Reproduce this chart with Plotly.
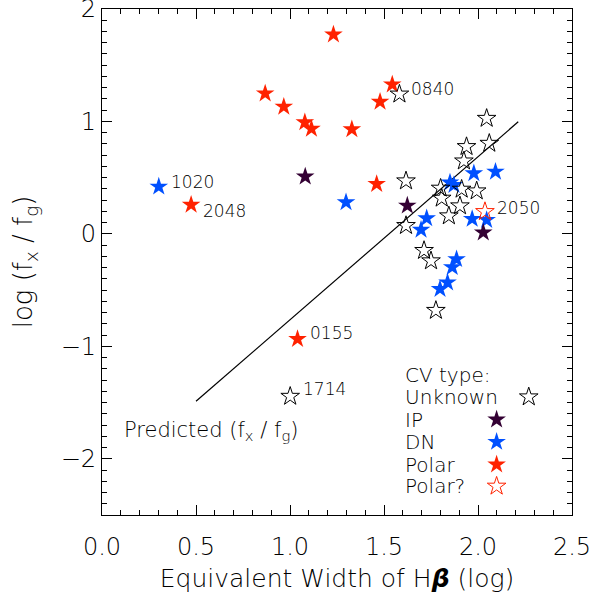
import plotly.graph_objects as go

# ---- data (log EW(Hbeta), log fx/fg) ----
unk_x = [1.582, 2.046, 2.060, 1.939, 1.925, 1.617, 1.801, 1.913, 1.993, 1.807, 1.904, 1.845, 1.617, 1.713, 1.750, 1.776, 1.001]
unk_y = [1.243, 1.027, 0.805, 0.776, 0.648, 0.471, 0.406, 0.397, 0.382, 0.317, 0.249, 0.160, 0.074, -0.148, -0.240, -0.681, -1.445]
unk_lab = ["0840", "", "", "", "", "", "", "", "", "", "", "", "", "", "", "", "1714"]

ip_x = [1.081, 1.624, 2.028]
ip_y = [0.509, 0.251, 0.012]

dn_x = [0.302, 1.298, 1.978, 2.093, 1.851, 1.872, 1.727, 1.969, 2.046, 1.697, 1.886, 1.863, 1.838, 1.798]
dn_y = [0.420, 0.281, 0.539, 0.553, 0.456, 0.435, 0.139, 0.133, 0.124, 0.036, -0.225, -0.296, -0.432, -0.491]
dn_lab = ["1020", "", "", "", "", "", "", "", "", "", "", "", "", ""]

pol_x = [1.231, 1.544, 0.868, 1.479, 0.967, 1.079, 1.114, 1.329, 1.461, 0.474, 1.040]
pol_y = [1.773, 1.329, 1.249, 1.175, 1.131, 0.992, 0.935, 0.930, 0.444, 0.258, -0.935]
pol_lab = ["", "", "", "", "", "", "", "", "", "2048", "0155"]

polq_x = [2.037]
polq_y = [0.198]
polq_lab = ["2050"]

pred_x = [0.50, 2.214]
pred_y = [-1.489, 0.997]

legend_names = ["Unknown", "IP", "DN", "Polar", "Polar?"]

RED = "#ff2200"
BLUE = "#0050ff"
IPC = "#330033"
FONT = "DejaVu Sans"
W = 300
MSIZE = 14

fig = go.Figure()

fig.add_trace(go.Scatter(x=pred_x, y=pred_y, mode="lines",
                         line=dict(color="black", width=1.2), hoverinfo="skip"))

def stars(xs, ys, symbol, color, lw=1.0):
    fig.add_trace(go.Scatter(
        x=xs, y=ys, mode="markers",
        marker=dict(symbol=symbol, size=MSIZE, color=color,
                    line=dict(width=lw if "open" in symbol else 0, color=color))))

stars(pol_x, pol_y, "star", RED)
stars(dn_x, dn_y, "star", BLUE)
stars(ip_x, ip_y, "star", IPC)
stars(unk_x, unk_y, "star-open", "black")
stars(polq_x, polq_y, "star-open", RED)

def tfont(size):
    return dict(family=FONT, size=size, color="black", weight=W)

# point labels
label_shift = {"1020": (10, 5), "2048": (10, -6), "0840": (10, 5),
               "2050": (10, 4), "0155": (10, 6), "1714": (11, 7)}
for xs, ys, labs in [(unk_x, unk_y, unk_lab), (dn_x, dn_y, dn_lab),
                     (pol_x, pol_y, pol_lab), (polq_x, polq_y, polq_lab)]:
    for xv, yv, lab in zip(xs, ys, labs):
        if lab:
            dx, dy = label_shift[lab]
            fig.add_annotation(x=xv, y=yv, text=lab, showarrow=False,
                               xanchor="left", yanchor="middle",
                               xshift=dx, yshift=dy, font=tfont(17))

# predicted label
fig.add_annotation(x=0.107, y=-1.756, text="Predicted (f<sub>x</sub> / f<sub>g</sub>)",
                   showarrow=False, xanchor="left", yanchor="middle", font=tfont(21))

# manual legend
leg_text_x = 1.603
leg_rows_y = [-1.252, -1.450, -1.652, -1.850, -2.052, -2.244]
fig.add_annotation(x=leg_text_x, y=leg_rows_y[0], text="CV type:", showarrow=False,
                   xanchor="left", yanchor="middle", font=tfont(20))
for name, yv in zip(legend_names, leg_rows_y[1:]):
    fig.add_annotation(x=leg_text_x, y=yv, text=name, showarrow=False,
                       xanchor="left", yanchor="middle", font=tfont(20))
leg_sym_x = [2.270, 2.099, 2.099, 2.099, 2.099]
leg_sym = [("star-open", "black"), ("star", IPC), ("star", BLUE), ("star", RED), ("star-open", RED)]
for (sym, col), xv, yv in zip(leg_sym, leg_sym_x, leg_rows_y[1:]):
    stars([xv], [yv], sym, col)

axis_common = dict(showline=True, linecolor="black", linewidth=1.3, mirror="allticks",
                   ticks="inside", ticklen=10, tickwidth=1.2, tickcolor="black",
                   showgrid=False, zeroline=False, automargin=False,
                   ticklabeloverflow="allow",
                   tickfont=tfont(24))

fig.update_xaxes(range=[0, 2.5], tickvals=[0, 0.5, 1.0, 1.5, 2.0, 2.5], tickformat=".1f",
                 minor=dict(ticks="inside", ticklen=5, tickwidth=1.2, tickcolor="black", dtick=0.1),
                 ticklabelstandoff=10,
                 title=dict(text="Equivalent Width of H<b><i>β</i></b> (log)",
                            font=tfont(25), standoff=9),
                 **axis_common)
fig.update_yaxes(range=[-2.5, 2], tickvals=[-2, -1, 0, 1, 2],
                 minor=dict(ticks="inside", ticklen=5, tickwidth=1.2, tickcolor="black", dtick=0.1),
                 title=dict(text="log (f<sub>x</sub> / f<sub>g</sub>)",
                            font=tfont(26), standoff=20),
                 **axis_common)

fig.update_layout(width=594, height=594, showlegend=False,
                  margin=dict(l=101.5, r=21.7, t=9, b=78.5),
                  plot_bgcolor="white", paper_bgcolor="white")

# remove the default page margin so the figure fills the window exactly
fig.write_html("out.html", config={"displayModeBar": False},
               post_script="document.body.style.margin='0';")
